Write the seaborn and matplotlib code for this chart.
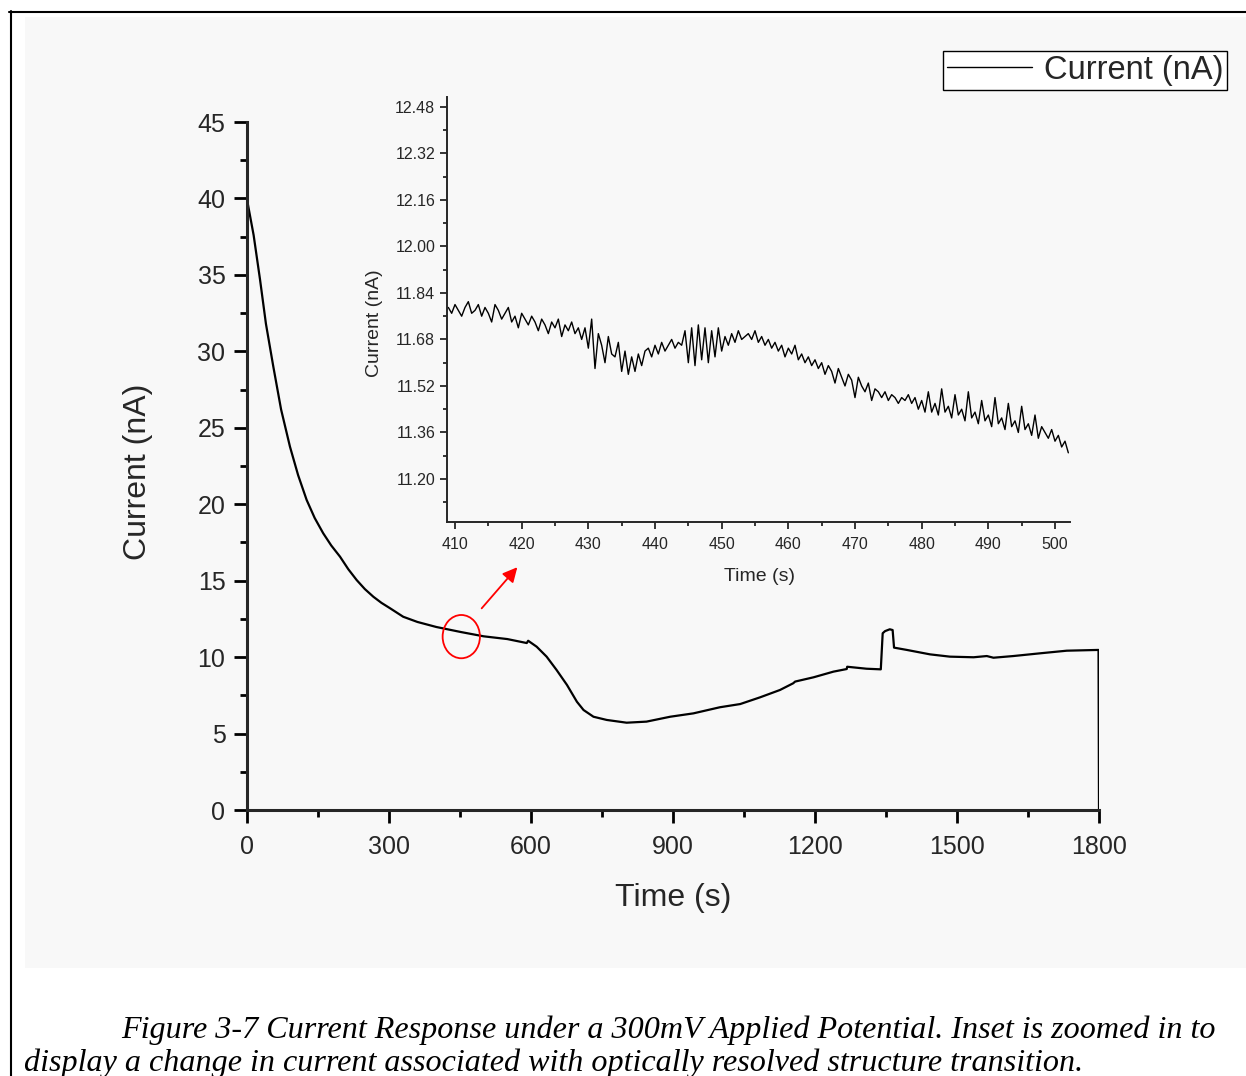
import numpy as np
import pandas as pd
import matplotlib
matplotlib.use("Agg")
import matplotlib.pyplot as plt
import seaborn as sns
from matplotlib.ticker import MultipleLocator, FormatStrFormatter
from matplotlib.patches import Ellipse, Rectangle
from matplotlib.lines import Line2D

# ---------------- data ----------------
main_time = [2, 14, 27.5, 40, 55.6, 72, 90.8, 108, 126, 143, 161, 178, 196.5, 214,
             231.7, 249, 266.9, 284, 302, 330, 360, 400, 452, 500, 550, 591, 594,
             612, 633, 654, 676, 697, 711, 732, 760, 802, 844, 894, 943, 999, 1042,
             1084, 1126, 1154, 1158, 1197, 1239, 1267, 1268, 1309, 1339, 1343, 1348,
             1358, 1364, 1367, 1394, 1443, 1485, 1535, 1563, 1577, 1619, 1676, 1732,
             1799, 1800]
main_current = [39.6, 37.6, 34.7, 31.8, 29.0, 26.2, 23.76, 21.9, 20.28, 19.1, 18.1, 17.3,
                16.57, 15.75, 15.04, 14.45, 13.95, 13.55, 13.2, 12.64, 12.3, 11.97, 11.64,
                11.36, 11.18, 10.92, 11.07, 10.68, 10.03, 9.16, 8.18, 7.08, 6.54, 6.1,
                5.89, 5.71, 5.78, 6.1, 6.32, 6.72, 6.93, 7.37, 7.85, 8.29, 8.4, 8.68,
                9.05, 9.22, 9.37, 9.24, 9.2, 11.56, 11.7, 11.82, 11.77, 10.62, 10.47,
                10.18, 10.03, 9.99, 10.07, 9.96, 10.07, 10.25, 10.42, 10.47, 0.0]

inset_time = np.arange(409.0, 502.01, 0.5)
inset_current = [
    11.79, 11.77, 11.80, 11.78, 11.76, 11.79, 11.81, 11.77, 11.78, 11.80,
    11.76, 11.79, 11.77, 11.74, 11.80, 11.78, 11.75, 11.77, 11.79, 11.74,
    11.76, 11.72, 11.77, 11.75, 11.73, 11.76, 11.74, 11.71, 11.75, 11.73,
    11.70, 11.74, 11.72, 11.75, 11.69, 11.73, 11.71, 11.74, 11.70, 11.72,
    11.68, 11.72, 11.65, 11.75, 11.58, 11.70, 11.66, 11.60, 11.69, 11.63,
    11.62, 11.67, 11.57, 11.64, 11.56, 11.62, 11.57, 11.63, 11.59, 11.64,
    11.65, 11.62, 11.66, 11.63, 11.67, 11.64, 11.66, 11.68, 11.65, 11.67,
    11.66, 11.71, 11.60, 11.72, 11.59, 11.73, 11.61, 11.72, 11.60, 11.71,
    11.62, 11.72, 11.64, 11.69, 11.66, 11.70, 11.67, 11.71, 11.68, 11.69,
    11.70, 11.68, 11.71, 11.67, 11.69, 11.66, 11.68, 11.65, 11.67, 11.64,
    11.66, 11.62, 11.65, 11.63, 11.66, 11.61, 11.63, 11.60, 11.62, 11.59,
    11.61, 11.58, 11.60, 11.56, 11.59, 11.57, 11.53, 11.58, 11.55, 11.52,
    11.56, 11.54, 11.48, 11.55, 11.52, 11.50, 11.53, 11.47, 11.51, 11.50,
    11.48, 11.50, 11.47, 11.49, 11.48, 11.46, 11.48, 11.47, 11.49, 11.46,
    11.48, 11.44, 11.47, 11.43, 11.50, 11.43, 11.46, 11.42, 11.51, 11.43,
    11.45, 11.41, 11.49, 11.42, 11.44, 11.40, 11.50, 11.41, 11.43, 11.39,
    11.47, 11.40, 11.42, 11.38, 11.48, 11.39, 11.41, 11.37, 11.46, 11.38,
    11.40, 11.36, 11.45, 11.37, 11.39, 11.35, 11.42, 11.34, 11.38, 11.36,
    11.34, 11.37, 11.33, 11.35, 11.31, 11.33, 11.29]

main_xticks = [0, 300, 600, 900, 1200, 1500, 1800]
main_yticks = [0, 5, 10, 15, 20, 25, 30, 35, 40, 45]
inset_xticks = [410, 420, 430, 440, 450, 460, 470, 480, 490, 500]
inset_yticks = [11.20, 11.36, 11.52, 11.68, 11.84, 12.00, 12.16, 12.32, 12.48]

caption_1 = "Figure 3-7 Current Response under a 300mV Applied Potential. Inset is zoomed in to"
caption_2 = "display a change in current associated with optically resolved structure transition."

df_main = pd.DataFrame({"Time (s)": main_time, "Current (nA)": main_current})
df_inset = pd.DataFrame({"Time (s)": inset_time, "Current (nA)": inset_current})

# ---------------- style ----------------
sns.set_style("ticks")
plt.rcParams["font.family"] = ["Liberation Sans", "DejaVu Sans"]

W, H = 1246, 1076
fig = plt.figure(figsize=(W / 100, H / 100), dpi=100)
fig.patch.set_facecolor("white")


def fx(x):
    return x / W


def fy(y):
    return 1 - y / H


# chart image background and page border
fig.patches.append(Rectangle((fx(25), fy(968)), (W - 25) / W, (968 - 17) / H,
                             transform=fig.transFigure, facecolor="#f8f8f8",
                             edgecolor="none", zorder=-10))
fig.lines.append(Line2D([fx(9), 1], [fy(11.5), fy(11.5)], transform=fig.transFigure,
                        color="black", lw=1.5, zorder=-5))
fig.lines.append(Line2D([fx(10.5), fx(10.5)], [fy(11), 0], transform=fig.transFigure,
                        color="black", lw=1.5, zorder=-5))

# ---------------- main axes ----------------
ax = fig.add_axes([fx(247), fy(810), (1099 - 247) / W, (810 - 122) / H])
ax.patch.set_alpha(0)
sns.lineplot(data=df_main, x="Time (s)", y="Current (nA)", ax=ax, color="black",
             lw=1.6, sort=False, estimator=None, legend=False)
ax.set_xlim(0, 1800)
ax.set_ylim(0, 45)
ax.set_xticks(main_xticks)
ax.set_yticks(main_yticks)
ax.xaxis.set_minor_locator(MultipleLocator(150))
ax.yaxis.set_minor_locator(MultipleLocator(2.5))
sns.despine(ax=ax)
for s in ["left", "bottom"]:
    ax.spines[s].set_linewidth(2.2)
ax.tick_params(which="major", direction="out", length=9.5, width=2.0,
               labelsize=18, pad=6, color="black")
ax.tick_params(axis="x", which="major", pad=8.5)
ax.tick_params(which="minor", direction="out", length=5, width=2.0, color="black")
ax.set_xlabel("Time (s)", fontsize=23)
ax.set_ylabel("Current (nA)", fontsize=23)
ax.xaxis.set_label_coords(0.5, -(883 - 810) / 688)
ax.xaxis.label.set_va("top")
ax.yaxis.set_label_coords((153 - 247) / 852, (810 - 471.5) / 688)

# red marker ellipse and arrow
ax.add_patch(Ellipse((452.7, 11.34), width=78.8, height=2.83, fill=False,
                     edgecolor="red", lw=1.3, zorder=5))
ax.annotate("", xy=(571.1, 15.88), xytext=(495.8, 13.19),
            arrowprops=dict(arrowstyle="-|>", color="red", lw=1.3,
                            mutation_scale=22, shrinkA=0, shrinkB=0))

leg_handle = Line2D([], [], color="black", lw=1.0)
ax.legend([leg_handle], ["Current (nA)"], loc="upper right",
          bbox_to_anchor=(fx(1227), fy(51)), bbox_transform=fig.transFigure,
          borderaxespad=0, frameon=True, fancybox=False, edgecolor="black",
          facecolor="white", framealpha=1, fontsize=23.5, handlelength=2.6,
          handletextpad=0.35, borderpad=0.12).get_frame().set_linewidth(1.0)

# ---------------- inset axes ----------------
ins = fig.add_axes([fx(447), fy(522), (1070 - 447) / W, (522 - 97) / H])
ins.patch.set_alpha(0)
sns.lineplot(data=df_inset, x="Time (s)", y="Current (nA)", ax=ins, color="black",
             lw=1.0, sort=False, estimator=None)
ins.set_xlim(408.8, 502.25)
ins.set_ylim(11.052, 12.514)
ins.set_xticks(inset_xticks)
ins.set_yticks(inset_yticks)
ins.xaxis.set_minor_locator(MultipleLocator(5))
ins.yaxis.set_minor_locator(MultipleLocator(0.08))
ins.yaxis.set_major_formatter(FormatStrFormatter("%.2f"))
sns.despine(ax=ins)
for s in ["left", "bottom"]:
    ins.spines[s].set_linewidth(1.4)
ins.tick_params(which="major", direction="out", length=5, width=1.1,
                labelsize=11.5, pad=3.5, color="black")
ins.tick_params(axis="x", which="major", pad=6)
ins.tick_params(which="minor", direction="out", length=3, width=1.1, color="black")
ins.set_xlabel("Time (s)", fontsize=14)
ins.set_ylabel("Current (nA)", fontsize=14)
ins.xaxis.set_label_coords((759 - 447) / 623, -(568 - 522) / 425)
ins.xaxis.label.set_va("top")
ins.yaxis.set_label_coords((383 - 447) / 623, (522 - 323) / 425)

# ---------------- caption ----------------
cap_kw = dict(family=["Liberation Serif", "DejaVu Serif"], style="italic",
              fontsize=23.1, color="black", va="baseline", ha="left")
fig.text(fx(121), fy(1038), caption_1, **cap_kw)
fig.text(fx(24), fy(1071), caption_2, **cap_kw)

fig.savefig("out.png", dpi=100, facecolor=fig.get_facecolor())
